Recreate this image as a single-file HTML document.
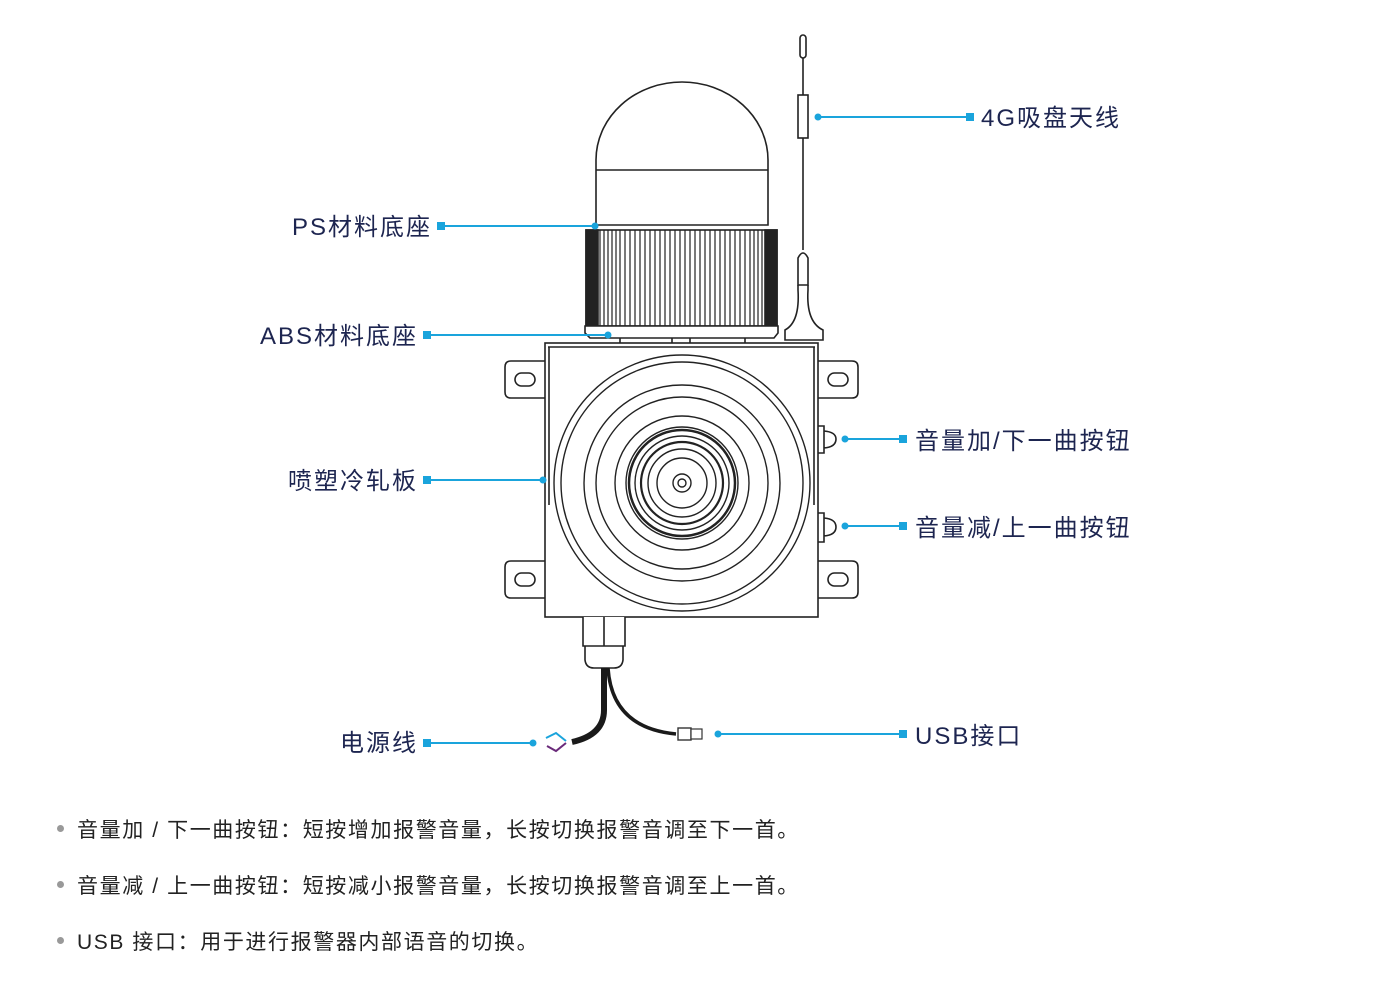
<!DOCTYPE html>
<html><head><meta charset="utf-8"><style>
body{margin:0;background:#fff;width:1400px;height:1004px;overflow:hidden;font-family:"Liberation Sans","Noto Sans CJK SC",sans-serif}
svg{position:absolute;left:0;top:0}
.lb{font-family:"Liberation Sans","Noto Sans CJK SC",sans-serif;font-size:24px;letter-spacing:2px;fill:#1d2550}
.bl{position:absolute;left:77px;font-size:21px;letter-spacing:1.6px;color:#222;white-space:nowrap}
.bl:before{content:"";position:absolute;left:-20px;top:11px;width:7px;height:7px;border-radius:50%;background:#999}
</style></head><body>
<svg width="1400" height="1004" viewBox="0 0 1400 1004">
<g fill="none" stroke="#222" stroke-width="1.6">
<path d="M596 225 V160 A86 78 0 0 1 768 160 V225 Z" fill="#fff"/>
<line x1="596" y1="170" x2="768" y2="170"/>
<rect x="586" y="230" width="191" height="96" fill="#fff"/>
<rect x="586" y="230" width="12" height="96" fill="#222"/>
<rect x="765" y="230" width="12" height="96" fill="#222"/>
</g>
<g stroke="#222" stroke-width="1.2">
<path d="M600 230V326M604 230V326M608 230V326M612 230V326M616 230V326M620 230V326M625 230V326M630 230V326M635 230V326M640 230V326M645 230V326M650 230V326M655 230V326M660 230V326M665 230V326M670 230V326M675 230V326M680 230V326M685 230V326M690 230V326M695 230V326M700 230V326M705 230V326M710 230V326M715 230V326M720 230V326M725 230V326M730 230V326M735 230V326M740 230V326M745 230V326M750 230V326M754 230V326M758 230V326M762 230V326"/>
</g>
<g fill="none" stroke="#222" stroke-width="1.6">
<path d="M585 326 H778 V333 L774 338 H590 L585 333 Z" fill="#fff"/>
<line x1="620" y1="338" x2="620" y2="343"/><line x1="672" y1="338" x2="672" y2="343"/><line x1="690" y1="338" x2="690" y2="343"/><line x1="745" y1="338" x2="745" y2="343"/>
<rect x="800" y="35" width="6" height="23" rx="3"/>
<line x1="803" y1="58" x2="803" y2="95"/>
<rect x="798" y="95" width="10" height="43"/>
<line x1="803" y1="138" x2="803" y2="250"/>
<path d="M798 258 Q803 248 808 258 V285 H798 Z"/>
<path d="M798 285 V290 Q800 322 785 330 V340 H823 V330 Q806 322 808 290 V285"/>
<rect x="545" y="343" width="273" height="274" fill="#fff"/>
<path d="M548 347 H815 M549 347 V505 M814 347 V505"/>
<path d="M545 361 H511 Q505 361 505 367 V392 Q505 398 511 398 H545"/>
<path d="M545 561 H511 Q505 561 505 567 V592 Q505 598 511 598 H545"/>
<path d="M818 361 H852 Q858 361 858 367 V392 Q858 398 852 398 H818"/>
<path d="M818 561 H852 Q858 561 858 567 V592 Q858 598 852 598 H818"/>
<rect x="515" y="373" width="20" height="13" rx="6.5"/>
<rect x="515" y="573" width="20" height="13" rx="6.5"/>
<rect x="828" y="373" width="20" height="13" rx="6.5"/>
<rect x="828" y="573" width="20" height="13" rx="6.5"/>
<path d="M818 426 H824 V453 H818 M824 431 Q836 432 836 439 Q836 447 824 448"/>
<path d="M818 513 H824 V542 H818 M824 518 Q836 519 836 527 Q836 535 824 536"/>
<g stroke-width="1.4">
<circle cx="682" cy="483" r="128"/><circle cx="682" cy="483" r="121"/>
<circle cx="682" cy="483" r="98"/><circle cx="682" cy="483" r="86"/>
<circle cx="682" cy="483" r="67"/><circle cx="682" cy="483" r="56"/>
<circle cx="682" cy="483" r="53" stroke-width="2.5"/><circle cx="682" cy="483" r="47"/>
<circle cx="682" cy="483" r="41" stroke-width="2.2"/><circle cx="682" cy="483" r="34"/>
<circle cx="682" cy="483" r="25"/><circle cx="682" cy="483" r="9"/><circle cx="682" cy="483" r="4"/>
</g>
<path d="M583 617 V646 H625 V617 M604 617 V646 M585 646 V660 Q586 668 594 668 H614 Q622 668 623 660 V646" fill="#fff"/>
</g>
<path d="M604 668 V710 Q604 735 572 742" fill="none" stroke="#1a1a1a" stroke-width="6"/>
<path d="M608 668 Q612 728 676 734" fill="none" stroke="#1a1a1a" stroke-width="3.5"/>
<rect x="678" y="728" width="13" height="12" fill="#fff" stroke="#333" stroke-width="1.4"/>
<rect x="691" y="729" width="11" height="10" fill="#fff" stroke="#333" stroke-width="1.2"/>
<path d="M546 738 L556 733 L566 741" fill="none" stroke="#1aa4dc" stroke-width="2"/>
<path d="M547 746 L556 751 L566 743" fill="none" stroke="#6a2a7a" stroke-width="2"/>
<g stroke="#1aa4dc" stroke-width="2" fill="#1aa4dc">
<line x1="818" y1="117" x2="970" y2="117"/><circle cx="818" cy="117" r="2.5"/><rect x="967" y="114" width="6" height="6"/>
<line x1="442" y1="226" x2="595" y2="226"/><circle cx="595" cy="226" r="2.5"/><rect x="438" y="223" width="6" height="6"/>
<line x1="428" y1="335" x2="608" y2="335"/><circle cx="608" cy="335" r="2.5"/><rect x="424" y="332" width="6" height="6"/>
<line x1="428" y1="480" x2="543" y2="480"/><circle cx="543" cy="480" r="2.5"/><rect x="424" y="477" width="6" height="6"/>
<line x1="845" y1="439" x2="903" y2="439"/><circle cx="845" cy="439" r="2.5"/><rect x="900" y="436" width="6" height="6"/>
<line x1="845" y1="526" x2="903" y2="526"/><circle cx="845" cy="526" r="2.5"/><rect x="900" y="523" width="6" height="6"/>
<line x1="428" y1="743" x2="533" y2="743"/><circle cx="533" cy="743" r="2.5"/><rect x="424" y="740" width="6" height="6"/>
<line x1="718" y1="734" x2="903" y2="734"/><circle cx="718" cy="734" r="2.5"/><rect x="900" y="731" width="6" height="6"/>
</g>
<text class="lb" x="981" y="126">4G吸盘天线</text>
<text class="lb" x="432" y="235" text-anchor="end">PS材料底座</text>
<text class="lb" x="418" y="344" text-anchor="end">ABS材料底座</text>
<text class="lb" x="418" y="489" text-anchor="end">喷塑冷轧板</text>
<text class="lb" x="915" y="449">音量加/下一曲按钮</text>
<text class="lb" x="915" y="536">音量减/上一曲按钮</text>
<text class="lb" x="418" y="751" text-anchor="end">电源线</text>
<text class="lb" x="915" y="744">USB接口</text>
</svg>
<div class="bl" style="top:814px">音量加 / 下一曲按钮：短按增加报警音量，长按切换报警音调至下一首。</div>
<div class="bl" style="top:870px">音量减 / 上一曲按钮：短按减小报警音量，长按切换报警音调至上一首。</div>
<div class="bl" style="top:926px">USB 接口：用于进行报警器内部语音的切换。</div>
</body></html>
